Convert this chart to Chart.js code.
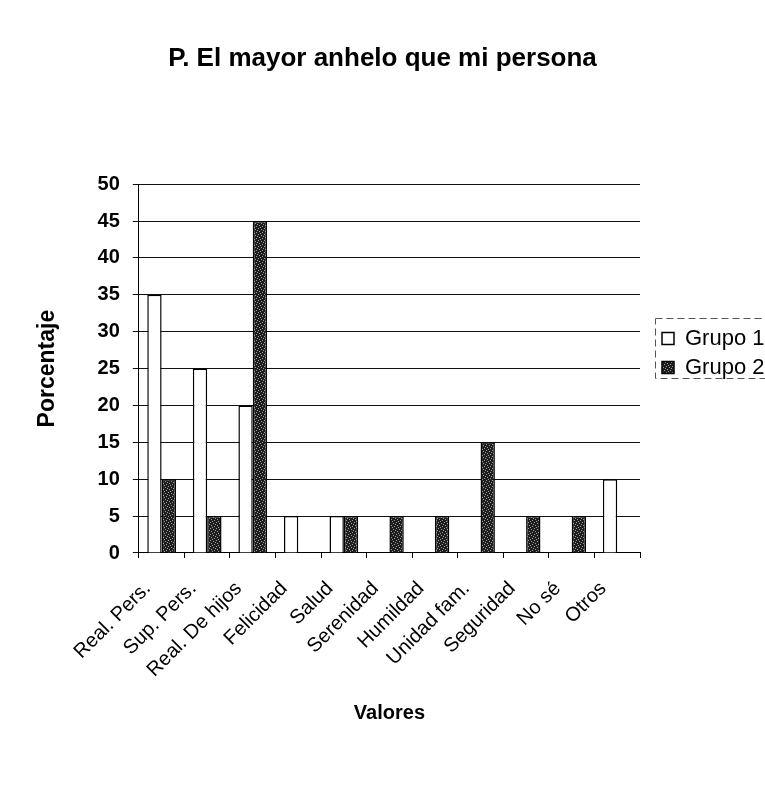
<!DOCTYPE html>
<html>
<head>
<meta charset="utf-8">
<script src="https://cdn.jsdelivr.net/npm/chart.js@4.4.1/dist/chart.umd.min.js"></script>
<style>
    html, body { margin: 0; padding: 0; background: #fff; overflow: hidden; }
    #wrap { width: 765px; height: 806px; }
</style>
</head>
<body>
<div id="wrap"><canvas id="barChart" width="765" height="806"></canvas></div>
<script>
const categories = ['Real. Pers.', 'Sup. Pers.', 'Real. De hijos', 'Felicidad', 'Salud', 'Serenidad',
    'Humildad', 'Unidad fam.', 'Seguridad', 'No sé', 'Otros'];
const grupo1 = [35, 25, 20, 5, 5, 0, 0, 0, 0, 0, 10];
const grupo2 = [10, 5, 45, 0, 5, 5, 5, 15, 5, 5, 0];
const seriesNames = ['Grupo 1', 'Grupo 2'];
const yTicks = [0, 5, 10, 15, 20, 25, 30, 35, 40, 45, 50];

const fontFamily = '"Liberation Sans", Arial, sans-serif';

// dark speckled fill like the scanned hatch
function makePattern() {
    const c = document.createElement('canvas');
    c.width = 6; c.height = 6;
    const g = c.getContext('2d');
    g.fillStyle = '#1e1e1e';
    g.fillRect(0, 0, 6, 6);
    g.fillStyle = '#9a9a9a';
    [[0, 0], [3, 1], [1, 3], [4, 4], [5, 2], [2, 5]].forEach(p => g.fillRect(p[0], p[1], 1, 1));
    return g.createPattern(c, 'repeat');
}

// legend sits right of the plot, partly cut by the page edge, with a box round it
const legendPlace = {
    id: 'legendPlace',
    beforeLayout(chart) {
        const lg = chart.legend;
        if (lg && !lg._patched) {
            const fit = lg.fit;
            lg.fit = function() { fit.call(this); this.width = 125; };
            lg._patched = true;
        }
    },
    afterLayout(chart) {
        const lg = chart.legend;
        if (!lg) return;
        lg.left = 655; lg.right = 800;
        lg.top = 318; lg.bottom = 388;
    },
    afterDraw(chart) {
        const ctx = chart.ctx;
        ctx.save();
        ctx.strokeStyle = '#555';
        ctx.lineWidth = 1;
        ctx.setLineDash([7, 4]);
        ctx.strokeRect(655.5, 318.5, 130, 60);
        ctx.restore();
    }
};

const ctx = document.getElementById('barChart').getContext('2d');
new Chart(ctx, {
    type: 'bar',
    data: {
        labels: categories,
        datasets: [{
            label: seriesNames[0],
            data: grupo1,
            backgroundColor: '#ffffff',
            borderColor: '#000000',
            borderWidth: 1.5
        }, {
            label: seriesNames[1],
            data: grupo2,
            backgroundColor: makePattern(),
            borderColor: '#000000',
            borderWidth: 1.5
        }]
    },
    options: {
        responsive: false,
        animation: false,
        datasets: {
            bar: { categoryPercentage: 0.63, barPercentage: 1.0 }
        },
        layout: { padding: { left: 0, right: 0, top: 0, bottom: 81 } },
        plugins: {
            title: {
                display: true,
                text: 'P. El mayor anhelo que mi persona',
                color: '#000',
                font: { family: fontFamily, size: 26, weight: 'bold' },
                padding: { top: 43, bottom: 110 }
            },
            legend: {
                position: 'right',
                align: 'center',
                labels: {
                    color: '#000',
                    font: { family: fontFamily, size: 22, lineHeight: '19px' },
                    boxWidth: 12,
                    boxHeight: 12,
                    padding: 7
                }
            },
            tooltip: { enabled: false }
        },
        scales: {
            x: {
                offset: true,
                grid: { display: true, drawOnChartArea: false, drawTicks: true, tickLength: 5, color: '#000', offset: true },
                border: { display: true, color: '#000', width: 1 },
                ticks: {
                    color: '#000',
                    font: { family: fontFamily, size: 20 },
                    minRotation: 45,
                    maxRotation: 45,
                    autoSkip: false,
                    padding: 19,
                    labelOffset: -14
                },
                title: {
                    display: true,
                    text: 'Valores',
                    color: '#000',
                    font: { family: fontFamily, size: 20, weight: 'bold' },
                    padding: { top: 0, bottom: 0 }
                }
            },
            y: {
                min: yTicks[0],
                max: yTicks[yTicks.length - 1],
                afterBuildTicks: axis => { axis.ticks = yTicks.map(v => ({ value: v })); },
                grid: { color: '#111', lineWidth: 1, tickLength: 6, drawTicks: true },
                border: { display: true, color: '#000', width: 1 },
                ticks: {
                    color: '#000',
                    font: { family: fontFamily, size: 20, weight: 'bold' },
                    padding: 13
                },
                title: {
                    display: true,
                    text: 'Porcentaje',
                    color: '#000',
                    font: { family: fontFamily, size: 23, weight: 'bold' },
                    padding: { top: 34, bottom: 23 }
                }
            }
        }
    },
    plugins: [legendPlace]
});
</script>
</body>
</html>
